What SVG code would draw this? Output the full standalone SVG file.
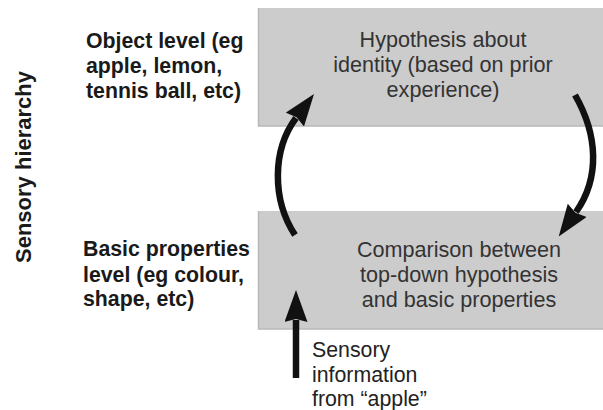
<svg xmlns="http://www.w3.org/2000/svg" width="603" height="410" viewBox="0 0 603 410">
  <style>
    .box { fill: #cccccc; }
    .edge { stroke: #b8b8b8; stroke-width: 1.5; fill: none; }
    .lbl { font-family: "Liberation Sans", Arial, sans-serif; font-size: 21.3px; font-weight: bold; fill: #1a1a1a; }
    .txt { font-family: "Liberation Sans", Arial, sans-serif; font-size: 21.6px; fill: #333333; text-anchor: middle; }
    .note { font-family: "Liberation Sans", Arial, sans-serif; font-size: 21.3px; fill: #222222; }
    .arc { stroke: #111111; stroke-width: 6.5; fill: none; }
  </style>
  <defs>
    <marker id="head" viewBox="0 0 32 23" refX="2" refY="11.5" markerWidth="32" markerHeight="23" orient="auto" markerUnits="userSpaceOnUse">
      <path d="M0,0 L32,11.5 L0,23 L3,11.5 Z" fill="#111111"/>
    </marker>
  </defs>

  <text class="lbl" transform="translate(31,167) rotate(-90)" text-anchor="middle" style="font-size:22px">Sensory hierarchy</text>

  <g id="object-level">
    <text class="lbl" x="86" y="48">Object level (eg</text>
    <text class="lbl" x="86" y="73">apple, lemon,</text>
    <text class="lbl" x="86" y="98">tennis ball, etc)</text>
  </g>

  <g id="basic-level">
    <text class="lbl" x="83" y="256">Basic properties</text>
    <text class="lbl" x="83" y="282">level (eg colour,</text>
    <text class="lbl" x="83" y="306">shape, etc)</text>
  </g>

  <g id="hypothesis">
    <rect class="box" x="258" y="8" width="345" height="118"/>
    <path class="edge" d="M258.5,8 V126 H603"/>
    <text class="txt" x="443" y="47">Hypothesis about</text>
    <text class="txt" x="443" y="72">identity (based on prior</text>
    <text class="txt" x="443" y="97">experience)</text>
  </g>

  <g id="comparison">
    <rect class="box" x="258" y="211" width="345" height="118"/>
    <path class="edge" d="M258.5,211 V329 H603"/>
    <text class="txt" x="459" y="257">Comparison between</text>
    <text class="txt" x="459" y="282">top-down hypothesis</text>
    <text class="txt" x="459" y="307">and basic properties</text>
  </g>

  <g id="sensory-input">
    <text class="note" x="312" y="357">Sensory</text>
    <text class="note" x="312" y="382">information</text>
    <text class="note" x="312" y="406">from “apple”</text>
  </g>

  <g id="connectors">
    <path class="arc" d="M295,235 C272,200 272,150 296,118" marker-end="url(#head)"/>
    <path class="arc" d="M575,95 C598,135 600,178 576,212" marker-end="url(#head)"/>
    <path class="arc" d="M296,378 V320" marker-end="url(#head)"/>
  </g>
</svg>
